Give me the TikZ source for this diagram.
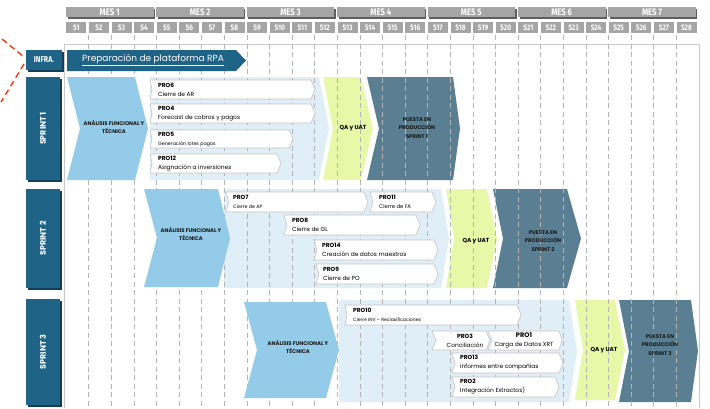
\documentclass[tikz,border=0pt]{standalone}
\usepackage{fontspec}
\setmainfont{Poppins}
\newfontfamily\hdrfont[FakeStretch=0.82]{Fira Sans}
\usetikzlibrary{positioning}

\definecolor{sprintblue}{HTML}{1F6387}
\definecolor{lblshadow}{HTML}{123F57}
\definecolor{anablue}{HTML}{93CBE8}
\definecolor{panelblue}{HTML}{DFEEF7}
\definecolor{qagreen}{HTML}{E8F7A8}
\definecolor{puestagray}{HTML}{5A7E92}
\definecolor{hdrgray}{HTML}{A5A5A5}
\definecolor{hdrshadow}{HTML}{5E5E5E}
\definecolor{gridgray}{HTML}{B4B4B4}
\definecolor{framegray}{HTML}{C8C8C8}
\definecolor{boxgray}{HTML}{C4C4C4}
\definecolor{redline}{HTML}{FF2A00}

% chevron: style, left x, top y, tip x, bottom y, notch depth, tip depth
\newcommand{\chevpath}[7]{%
  \path[#1] (#2,#3) -- ({#4-#7},#3) -- (#4,{(#3+#5)/2}) -- ({#4-#7},#5)
    -- (#2,#5) -- ({#2+#6},{(#3+#5)/2}) -- cycle;}

\begin{document}
\begin{tikzpicture}[x=1pt, y=-1pt,
    hdrbox/.style={fill=hdrgray},
    hdrshade/.style={fill=hdrshadow},
    hdrtxt/.style={text=white, font=\hdrfont\bfseries\fontsize{9.5}{9.5}\selectfont, inner sep=0pt},
    wktxt/.style={text=white, font=\hdrfont\bfseries\fontsize{8}{8}\selectfont, inner sep=0pt},
    gridline/.style={draw=gridgray, dash pattern=on 5pt off 3.5pt, line width=0.6pt},
    ana/.style={fill=anablue},
    panel/.style={fill=panelblue},
    qa/.style={fill=qagreen},
    puesta/.style={fill=puestagray},
    infra/.style={fill=sprintblue},
    probox/.style={fill=white, draw=boxgray, line width=0.6pt},
    protxt/.style={anchor=west, align=left, inner sep=0pt, font=\fontsize{5.9}{9}\selectfont},
    stagetxt/.style={align=center, inner sep=0pt, text=black!90, font=\bfseries\fontsize{5.3}{8.5}\selectfont},
    qatxt/.style={inner sep=0pt, font=\bfseries\fontsize{5.8}{6}\selectfont},
    lblbox/.style={fill=sprintblue},
    lblshade/.style={fill=lblshadow},
    lbltxt/.style={text=white, font=\bfseries\fontsize{8}{8}\selectfont, inner sep=0pt}
  ]
  \useasboundingbox (0,0) rectangle (710,408);

  % header
  \foreach \m in {0,...,6} {
    \pgfmathtruncatemacro\mm{\m+1}
    \fill[hdrshade] ({66+90.4*\m+1.5},8.5) rectangle ({66+90.4*\m+89},18.5);
    \fill[hdrbox] ({66+90.4*\m},7) rectangle ({66+90.4*\m+87.5},17);
    \node[hdrtxt] (mes\mm) at ({66+90.4*\m+43.7},12) {MES \mm};
  }
  \foreach \w in {1,...,28} {
    \fill[hdrbox] ({66+22.6*(\w-1)+0.3},22) rectangle ({66+22.6*(\w-1)+20.3},33);
    \node[wktxt] (wk\w) at ({66+22.6*(\w-1)+10.3},27.5) {S\w};
  }

  % frame
  \draw[framegray, line width=0.8pt] (64,408) -- (64,44) -- (699,44) -- (699,408);

  % red marks
  \draw[redline, line width=1.3pt, dash pattern=on 6pt off 4pt] (2,39) -- (24,57);
  \draw[redline, line width=1.3pt, dash pattern=on 6pt off 4pt] (24,64) -- (1,102);

  % panels, QA, puesta
  \chevpath{panel}{150}{77}{329}{180}{0}{10}
  \chevpath{qa}{323}{77}{373}{180}{10}{12}
  \chevpath{puesta}{367}{77}{460}{180}{12}{7}

  \chevpath{panel}{224}{189}{449}{288}{0}{8}
  \chevpath{qa}{446}{189}{497}{288}{8}{10}
  \chevpath{puesta}{493}{189}{581}{288}{10}{14}

  \chevpath{panel}{339}{300}{577}{402}{0}{8}
  \chevpath{qa}{575}{300}{625}{400}{8}{10}
  \chevpath{puesta}{619}{300}{698}{402}{10}{7}

  % week grid
  \foreach \k in {1,...,27}
    \draw[gridline] ({66+22.6*\k},35) -- ({66+22.6*\k},408);

  % analisis
  \chevpath{ana}{67}{77}{148}{180}{13}{13}
  \chevpath{ana}{144}{189}{230}{287}{13}{12}
  \chevpath{ana}{244}{302}{339}{398}{13}{13}

  % infra
  \chevpath{infra}{67}{50}{246}{71}{0}{10}
  \node[anchor=west, inner sep=0pt, text=white, font=\fontsize{9}{9}\selectfont]
    (rpa) at (82,60) {\underline{Preparación de plataforma RPA}};

  % PRO boxes
  \chevpath{probox}{150}{80}{315}{99}{2}{4}
  \chevpath{probox}{150}{104}{315}{123}{2}{4}
  \chevpath{probox}{150}{130}{293}{148}{2}{4}
  \chevpath{probox}{150}{154}{281}{173}{2}{4}

  \chevpath{probox}{226}{192}{368}{212}{3}{4}
  \chevpath{probox}{370}{192}{436}{212}{3}{4}
  \chevpath{probox}{284}{215}{420}{235}{3}{4}
  \chevpath{probox}{314}{240}{438}{260}{3}{4}
  \chevpath{probox}{316}{264}{438}{284}{3}{4}

  \chevpath{probox}{345}{305}{521}{325}{2}{4}
  \chevpath{probox}{432}{331}{490}{350}{4}{4}
  \chevpath{probox}{488}{331}{562}{350}{4}{3}
  \chevpath{probox}{452}{353}{563}{373}{3}{4}
  \chevpath{probox}{452}{377}{559}{397}{3}{4}

  \node[protxt] (pro6) at (158,89.5) {\textbf{PRO6}\\Cierre de AR};
  \node[protxt] (pro4) at (158,113.5) {\textbf{PRO4}\\Forecast de cobros y pagos};
  \node[protxt] (pro5) at (158,139) {\textbf{PRO5}\\{\fontsize{4.8}{9}\selectfont Generación lotes pagos}};
  \node[protxt] (pro12) at (158,163.5) {\textbf{PRO12}\\Asignación a inversiones};

  \node[protxt] (pro7) at (233,202) {\textbf{PRO7}\\{\fontsize{4.8}{9}\selectfont Cierre de AP}};
  \node[protxt] (pro11) at (379,202) {\textbf{PRO11}\\{\fontsize{5.3}{9}\selectfont Cierre de FA}};
  \node[protxt] (pro8) at (292,225) {\textbf{PRO8}\\Cierre de GL};
  \node[protxt] (pro14) at (322,250) {\textbf{PRO14}\\Creación de datos maestros};
  \node[protxt] (pro9) at (323,274) {\textbf{PRO9}\\Cierre de PO};

  \node[protxt] (pro10) at (353,315) {\textbf{PRO10}\\{\fontsize{4.6}{9}\selectfont Cierre INV – Reclasificaciones}};
  \node[protxt, anchor=center, align=center] (pro3) at (465,340.5) {\textbf{PRO3}\\Conciliación};
  \node[protxt, anchor=center, align=center] (pro1) at (524,340.5) {{\fontsize{6.6}{9}\selectfont\textbf{PRO1}}\\Carga de Datos XRT};
  \node[protxt] (pro13) at (460,363) {\textbf{PRO13}\\informes entre compañías};
  \node[protxt] (pro2) at (460,387) {\textbf{PRO2}\\Integración Extractos)};

  % stage texts
  \node[stagetxt] (ana1) at (114,127) {ANÁLISIS FUNCIONAL Y\\TÉCNICA};
  \node[stagetxt] (ana2) at (191,234) {ANÁLISIS FUNCIONAL Y\\TÉCNICA};
  \node[stagetxt] (ana3) at (298,347) {ANÁLISIS FUNCIONAL Y\\TÉCNICA};
  \node[qatxt] (qa1) at (353,128) {QA y UAT};
  \node[qatxt] (qa2) at (476,241) {QA y UAT};
  \node[qatxt] (qa3) at (604,350) {QA y UAT};
  \node[stagetxt] (put1) at (417,128) {PUESTA EN\\PRODUCCIÓN\\SPRINT 1};
  \node[stagetxt] (put2) at (543,241) {PUESTA EN\\PRODUCCIÓN\\SPRINT 2};
  \node[stagetxt] (put3) at (660,345) {PUESTA EN\\PRODUCCIÓN\\SPRINT 3};

  % left labels
  \fill[lblshade] (27.5,51.5) rectangle (63.5,71.5);
  \fill[lblbox] (26,50) rectangle (62,70);
  \node[lbltxt, font=\hdrfont\bfseries\fontsize{8.5}{8.5}\selectfont] (infra) at (44,60) {INFRA.};
  \fill[lblshade] (27.5,78.5) rectangle (61.5,181.5);
  \fill[lblbox] (26,77) rectangle (60,180);
  \node[lbltxt, rotate=90] (sp1) at (43,128.5) {SPRINT 1};
  \fill[lblshade] (27.5,190.5) rectangle (61.5,289.5);
  \fill[lblbox] (26,189) rectangle (60,288);
  \node[lbltxt, rotate=90] (sp2) at (43,238.5) {SPRINT 2};
  \fill[lblshade] (27.5,300.5) rectangle (61.5,406.5);
  \fill[lblbox] (26,299) rectangle (60,405);
  \node[lbltxt, rotate=90] (sp3) at (43,352) {SPRINT 3};
\end{tikzpicture}
\end{document}
